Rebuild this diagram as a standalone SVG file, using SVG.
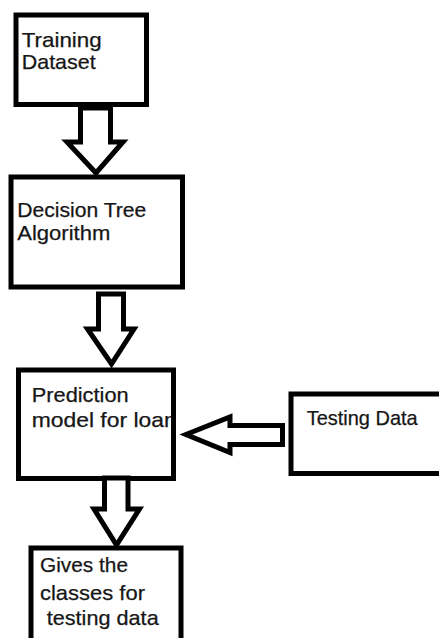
<svg xmlns="http://www.w3.org/2000/svg" width="439" height="638" viewBox="0 0 439 638">
  <style>
    .bg { fill: #ffffff; stroke: none; }
    .frame { fill: none; stroke: #000000; stroke-width: 5; }
    .label { font-family: "Liberation Sans", Arial, sans-serif; font-size: 21px; fill: #161616; stroke: #161616; stroke-width: 0.25; }
    .arrow { fill: #ffffff; stroke: #000000; stroke-width: 5; stroke-linejoin: miter; stroke-miterlimit: 10; }
  </style>
  <rect x="0" y="0" width="439" height="638" fill="#ffffff"/>

  <!-- nodes -->
  <g id="training-dataset">
    <rect class="bg" x="16" y="15" width="130.5" height="89.5"/>
    <text class="label" x="21.7" y="46.5" textLength="80" lengthAdjust="spacingAndGlyphs">Training</text>
    <text class="label" x="21.7" y="69" textLength="74" lengthAdjust="spacingAndGlyphs">Dataset</text>
    <rect class="frame" x="16" y="15" width="130.5" height="89.5"/>
  </g>

  <g id="decision-tree">
    <rect class="bg" x="11" y="177" width="171.5" height="110"/>
    <text class="label" x="17.3" y="216.7" textLength="129" lengthAdjust="spacingAndGlyphs">Decision Tree</text>
    <text class="label" x="17.3" y="239.5" textLength="93" lengthAdjust="spacingAndGlyphs">Algorithm</text>
    <rect class="frame" x="11" y="177" width="171.5" height="110"/>
  </g>

  <g id="prediction-model">
    <rect class="bg" x="18.5" y="370" width="155" height="108.5"/>
    <text class="label" x="31.7" y="401.7" textLength="97" lengthAdjust="spacingAndGlyphs">Prediction</text>
    <text class="label" x="31.7" y="426.7" textLength="145" lengthAdjust="spacingAndGlyphs">model for loan</text>
    <rect class="frame" x="18.5" y="370" width="155" height="108.5"/>
  </g>

  <g id="testing-data">
    <rect class="bg" x="291" y="394" width="200" height="79.5"/>
    <text class="label" x="306.7" y="425" textLength="111" lengthAdjust="spacingAndGlyphs">Testing Data</text>
    <rect class="frame" x="291" y="394" width="200" height="79.5"/>
  </g>

  <g id="classes-output">
    <rect class="bg" x="31" y="548" width="150" height="110"/>
    <text class="label" x="40" y="571.7" textLength="88" lengthAdjust="spacingAndGlyphs">Gives the</text>
    <text class="label" x="40" y="600" textLength="105" lengthAdjust="spacingAndGlyphs">classes for</text>
    <text class="label" x="46.7" y="625" textLength="112" lengthAdjust="spacingAndGlyphs">testing data</text>
    <rect class="frame" x="31" y="548" width="150" height="110"/>
  </g>

  <!-- block arrows between the steps -->
  <g id="connectors">
    <path class="arrow" d="M80.5,108 H110.5 V142 H123 L96,173 L67,142 H80.5 Z"/>
    <path class="arrow" d="M98.5,294 H123.5 V329 H134 L111.5,364 L87.5,329 H98.5 Z"/>
    <path class="arrow" d="M104.5,478 H128 V509 H139.5 L116.5,545 L94,509 H104.5 Z"/>
    <path class="arrow" d="M282.5,425.5 V444.5 H230 V452.5 L186,434.5 L230,417 V425.5 Z"/>
  </g>
</svg>
